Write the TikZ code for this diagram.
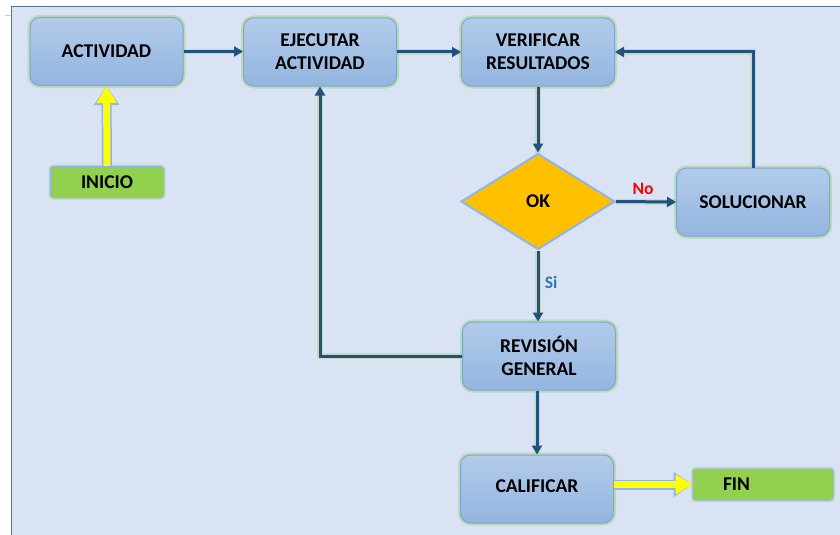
\documentclass[tikz,border=0pt]{standalone}
\usepackage{fontspec}
\setmainfont{Carlito}
\usetikzlibrary{shapes.geometric,arrows.meta}
\definecolor{bgpanel}{HTML}{DAE3F3}
\definecolor{panelline}{HTML}{4F759C}
\definecolor{boxtop}{HTML}{B3CBEA}
\definecolor{boxbot}{HTML}{93B5E0}
\definecolor{boxedge}{HTML}{7AA6DA}
\definecolor{glowgreen}{HTML}{A8D48A}
\definecolor{conncol}{HTML}{21527F}
\definecolor{okfill}{HTML}{FFC000}
\definecolor{startfill}{HTML}{92D050}
\definecolor{yarrowcol}{HTML}{FFFF00}
\definecolor{yedge}{HTML}{8FB4EA}
\definecolor{nored}{HTML}{FF0000}
\definecolor{siblue}{HTML}{2E75B6}
\tikzset{
  box/.style={rectangle, rounded corners=10pt, top color=boxtop, bottom color=boxbot,
    draw=boxedge, line width=1pt, minimum width=153pt, minimum height=68pt,
    align=center, font=\fontsize{19.5}{23}\selectfont\bfseries, text=black,
    preaction={draw=glowgreen, line width=5pt, opacity=0.6}},
  termbox/.style={rectangle, rounded corners=3pt, fill=startfill, draw=yedge, line width=1pt,
    minimum width=113pt, minimum height=31pt, font=\fontsize{19.5}{23}\selectfont\bfseries,
    preaction={draw=glowgreen, line width=4pt, opacity=0.6}},
  decision/.style={diamond, fill=okfill, draw=yedge, line width=2pt, minimum width=154pt,
    minimum height=96pt, inner sep=0pt, font=\fontsize{19.5}{23}\selectfont\bfseries},
  conn/.style={draw=conncol, line width=3pt, -{Triangle[length=9pt,width=10pt]},
    preaction={draw=glowgreen, line width=5.5pt, opacity=0.45, -}},
  yarrow/.style={draw=yarrowcol, line width=7pt, -{Triangle[length=17pt,width=19pt]},
    preaction={draw=yedge, line width=10pt, -{Triangle[length=19pt,width=24pt]}}},
  lbl/.style={font=\fontsize{17.5}{20}\selectfont\bfseries}
}
\begin{document}
\begin{tikzpicture}[x=1pt,y=-1pt]
\useasboundingbox (0,0) rectangle (840,535);
\fill[white] (0,0) rectangle (840,535);
\fill[bgpanel] (11,7) rectangle (840,535);
\draw[panelline, line width=1pt] (11,535) -- (11,7) -- (840,7);
\draw[gray!40, line width=0.8pt] (5,15) -- (11,15);

\node[box] (act) at (106.5,51.5) {ACTIVIDAD};
\node[box] (eje) at (320,52) {\raisebox{2pt}{\parbox{140pt}{\centering EJECUTAR\\ACTIVIDAD}}};
\node[box] (ver) at (538,52) {VERIFICAR\\RESULTADOS};
\node[termbox] (ini) at (107,182) {INICIO};
\node[decision] (ok) at (538,201.5) {OK};
\node[box] (sol) at (753,202) {SOLUCIONAR};
\node[box] (rev) at (539,356) {REVISIÓN\\GENERAL};
\node[box] (cal) at (537,489) {\raisebox{5pt}{CALIFICAR}};
\node[termbox, minimum width=140pt] (fin) at (763,484.5) {\makebox[130pt][l]{\hspace{25pt}FIN}};

\draw[conn] (act.east) -- (eje.west |- act.east);
\draw[conn] (eje.east) -- (ver.west |- eje.east);
\draw[conn] (ver.south) -- (ok.north);
\draw[conn] (ok.east) -- node[lbl, text=nored, above, pos=0.45, yshift=2pt] (no) {No} (sol.west);
\draw[conn] (sol.north) |- (ver.east);
\draw[conn] (ok.south) -- node[lbl, text=siblue, right, pos=0.45, xshift=2pt] (si) {Si} (ok.south |- rev.north);
\draw[conn] (rev.west) -| (eje.south);
\draw[conn] (rev.south -| cal.north) -- (cal.north);
\draw[yarrow] (ini.north) -- (act.south);
\draw[yarrow] (cal.east |- fin.west) -- (fin.west);
\end{tikzpicture}
\end{document}
